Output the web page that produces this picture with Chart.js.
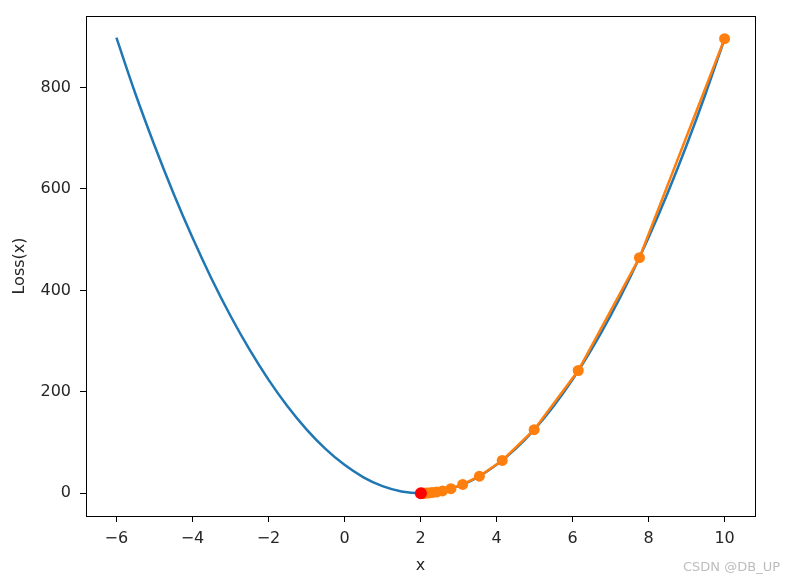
<!DOCTYPE html>
<html>
<head>
<meta charset="utf-8">
<script src="https://cdn.jsdelivr.net/npm/chart.js@4"></script>
<style>
  html, body { margin: 0; padding: 0; background: #fff; }
  #wrap { width: 787px; height: 582px; }
</style>
</head>
<body>
<div id="wrap"><canvas id="lossChart" width="787" height="582"></canvas></div>
<script>
// loss curve (x step 0.5)
const curveX = [-6, -5.5, -5, -4.5, -4, -3.5, -3, -2.5, -2, -1.5, -1, -0.5, 0, 0.5, 1, 1.5, 2,
  2.5, 3, 3.5, 4, 4.5, 5, 5.5, 6, 6.5, 7, 7.5, 8, 8.5, 9, 9.5, 10];
const curveLoss = [898, 787.5, 686, 591.5, 504, 423.5, 350, 283.5, 224, 171.5, 126, 87.5, 56, 31.5, 14, 3.5, 0,
  3.5, 14, 31.5, 56, 87.5, 126, 171.5, 224, 283.5, 350, 423.5, 504, 591.5, 686, 787.5, 896];

// gradient descent steps (orange)
const stepX = [10, 7.76, 6.15, 4.99, 4.15, 3.55, 3.11, 2.8, 2.58, 2.42, 2.3, 2.22, 2.16, 2.11, 2.08, 2.06, 2.04, 2.03];
const stepLoss = [896, 464.5, 242, 125.4, 64.7, 33.6, 17.4, 9, 4.7, 2.5, 1.3, 0.7, 0.4, 0.2, 0.1, 0.05, 0.02, 0.01];

// final point (red)
const endX = [2.01];
const endLoss = [0];

const xTicks = [-6, -4, -2, 0, 2, 4, 6, 8, 10];
const yTicks = [0, 200, 400, 600, 800];

function toPts(xs, ys) {
  return xs.map((x, i) => ({ x: x, y: ys[i] }));
}

const FONT = "'DejaVu Sans', sans-serif";
const TXT = "#262626";

// full box around plot + watermark
const frame = {
  id: "frame",
  afterDraw(chart) {
    const a = chart.chartArea, ctx = chart.ctx;
    ctx.save();
    ctx.strokeStyle = "#000";
    ctx.lineWidth = 1;
    ctx.strokeRect(Math.round(a.left) + 0.5, Math.round(a.top) + 0.5,
      Math.round(a.right - a.left), Math.round(a.bottom - a.top));
    ctx.fillStyle = "#bdbdbd";
    ctx.font = "13px " + FONT;
    ctx.textAlign = "right";
    ctx.textBaseline = "middle";
    ctx.fillText("CSDN @DB_UP", 780, 568);
    ctx.restore();
  }
};

const minus = v => String(v).replace("-", "\u2212");

new Chart(document.getElementById("lossChart"), {
  type: "line",
  data: {
    datasets: [
      {
        data: toPts(curveX, curveLoss),
        borderColor: "#1f77b4",
        borderWidth: 2.5,
        pointRadius: 0,
        cubicInterpolationMode: "monotone",
        order: 2
      },
      {
        data: toPts(stepX, stepLoss),
        borderColor: "#ff7f0e",
        backgroundColor: "#ff7f0e",
        borderWidth: 2.5,
        pointRadius: 5.5,
        pointBorderWidth: 0,
        tension: 0,
        order: 1
      },
      {
        data: toPts(endX, endLoss),
        borderColor: "#ff0000",
        backgroundColor: "#ff0000",
        showLine: false,
        pointRadius: 6,
        pointBorderWidth: 0,
        order: 0
      }
    ]
  },
  options: {
    responsive: false,
    animation: false,
    layout: { padding: { top: 16, right: 32, left: 0, bottom: 0 } },
    plugins: { legend: { display: false }, tooltip: { enabled: false } },
    scales: {
      x: {
        type: "linear",
        min: -6.8,
        max: 10.8,
        afterBuildTicks: s => { s.ticks = xTicks.map(v => ({ value: v })); },
        afterFit: s => { s.height = 66; s.paddingLeft = 0; s.paddingRight = 0; },
        grid: { drawOnChartArea: false, drawTicks: true, tickLength: 6, color: "#000" },
        border: { display: true, color: "#000" },
        ticks: { color: TXT, font: { family: FONT, size: 16 }, padding: 7, maxRotation: 0,
          callback: v => minus(v) },
        title: { display: true, text: "x", color: TXT, font: { family: FONT, size: 16 }, padding: { top: 0, bottom: 7 } }
      },
      y: {
        type: "linear",
        min: -44.8,
        max: 940.8,
        afterBuildTicks: s => { s.ticks = yTicks.map(v => ({ value: v })); },
        afterFit: s => { s.width = 86; s.paddingTop = 0; s.paddingBottom = 0; },
        grid: { drawOnChartArea: false, drawTicks: true, tickLength: 6, color: "#000" },
        border: { display: true, color: "#000" },
        ticks: { color: TXT, font: { family: FONT, size: 16 }, padding: 9,
          callback: v => minus(v) },
        title: { display: true, text: "Loss(x)", color: TXT, font: { family: FONT, size: 16 }, padding: { top: 10, bottom: 0 } }
      }
    }
  },
  plugins: [frame]
});
</script>
</body>
</html>
